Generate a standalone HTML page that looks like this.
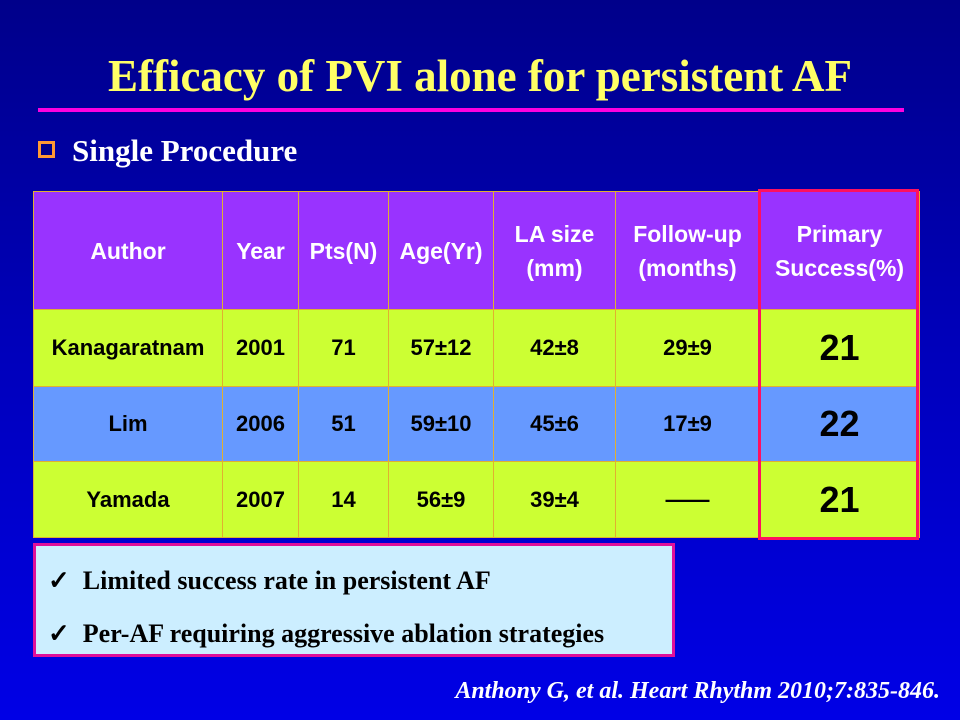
<!DOCTYPE html>
<html><head><meta charset="utf-8"><style>
body{margin:0;width:960px;height:720px;overflow:hidden;position:relative;font-family:"Liberation Sans",sans-serif;
background:linear-gradient(180deg,#00008a 0%,#0000b8 45%,#0000e6 100%);}
.abs{position:absolute}
.title{left:0;width:960px;top:50px;text-align:center;font:bold 45px "Liberation Serif",serif;color:#ffff66;}
.line{left:38px;width:866px;top:108px;height:4px;background:#ff00e0;}
.sub{left:72px;top:133px;font:bold 31px "Liberation Serif",serif;color:#fff;}
.bul{left:38px;top:141px;width:17px;height:17px;border:3px solid #ff9933;box-sizing:border-box;background:#00008c;}
table{position:absolute;left:33px;top:191px;border-collapse:collapse;table-layout:fixed;}
td{border:1px solid #e0b030;text-align:center;font-weight:bold;font-size:22px;padding:0;color:#000;white-space:nowrap;}
tr.h td{background:#9933ff;color:#fff;height:117px;line-height:34px;font-size:23px;}
tr.y td{background:#ccff33;}
tr.b td{background:#6699ff;}
.big{font-size:36px;}
.red{left:758px;top:189px;width:161px;height:351px;border:3px solid #ff1060;box-sizing:border-box;}
.box{left:33px;top:543px;width:642px;height:114px;background:#cceeff;border:3px solid #e0109a;box-sizing:border-box;}
.box div{position:absolute;left:12px;font:bold 26px "Liberation Serif",serif;color:#000;}
.cite{right:20px;top:678px;font:italic bold 24px "Liberation Serif",serif;color:#fff;}
</style></head><body>
<div class="abs title">Efficacy of PVI alone for persistent AF</div>
<div class="abs line"></div>
<div class="abs bul"></div>
<div class="abs sub">Single Procedure</div>
<table>
<colgroup><col style="width:189px"><col style="width:76px"><col style="width:90px"><col style="width:105px"><col style="width:122px"><col style="width:144px"><col style="width:160px"></colgroup>
<tr class="h"><td>Author</td><td>Year</td><td>Pts(N)</td><td>Age(Yr)</td><td>LA size<br>(mm)</td><td>Follow-up<br>(months)</td><td>Primary<br>Success(%)</td></tr>
<tr class="y" style="height:77px"><td>Kanagaratnam</td><td>2001</td><td>71</td><td>57±12</td><td>42±8</td><td>29±9</td><td class="big">21</td></tr>
<tr class="b" style="height:75px"><td>Lim</td><td>2006</td><td>51</td><td>59±10</td><td>45±6</td><td>17±9</td><td class="big">22</td></tr>
<tr class="y" style="height:76px"><td>Yamada</td><td>2007</td><td>14</td><td>56±9</td><td>39±4</td><td>——</td><td class="big">21</td></tr>
</table>
<div class="abs red"></div>
<div class="abs box"><div style="top:20px">✓&nbsp; Limited success rate in persistent AF</div><div style="top:73px">✓&nbsp; Per-AF requiring aggressive ablation strategies</div></div>
<div class="abs cite">Anthony G, et al. Heart Rhythm 2010;7:835-846.</div>
</body></html>
